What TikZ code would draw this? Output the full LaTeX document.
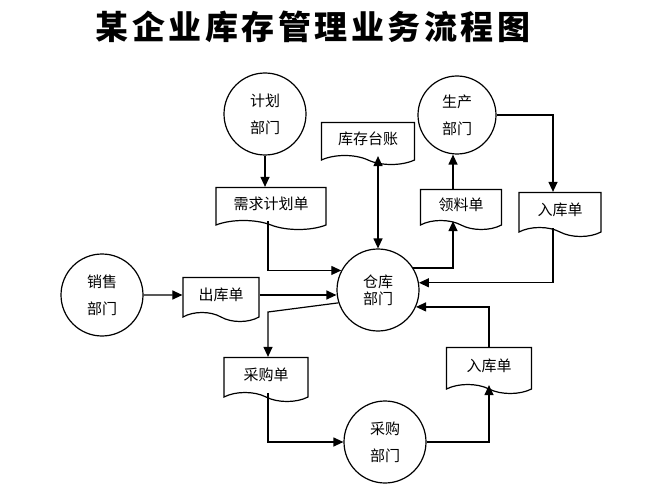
\documentclass[tikz,border=0pt]{standalone}
\usepackage{fontspec}
\setmainfont{Noto Sans CJK SC}
\usetikzlibrary{shapes.symbols,arrows.meta}
\newcommand{\ttlsp}{\hspace{3.5pt}}

\begin{document}
\begin{tikzpicture}[x=1pt,y=-1pt,line width=1.2pt,
  dept_node/.style={circle,draw,inner sep=0pt,minimum size=82pt,align=center,font=\fontsize{15}{27}\selectfont},
  doc_node/.style={tape,draw,tape bend top=none,tape bend bottom=out and in,tape bend height=9pt,inner sep=2pt,font=\fontsize{15}{18}\selectfont},
  arr/.style={-{Triangle[length=10pt,width=9pt]}}]
  \useasboundingbox (0,0) rectangle (667,500);
  \node (title) at (313,27) {\fontsize{33}{36}\selectfont\bfseries 某\ttlsp 企\ttlsp 业\ttlsp 库\ttlsp 存\ttlsp 管\ttlsp 理\ttlsp 业\ttlsp 务\ttlsp 流\ttlsp 程\ttlsp 图};
  \node[dept_node] (plan) at (265,114) {计划\\部门};
  \node[dept_node,minimum size=78pt] (prod) at (457,115) {生产\\部门};
  \node[dept_node] (sales) at (102,295) {销售\\部门};
  \node[dept_node,font=\fontsize{15}{17}\selectfont] (store) at (378,290) {仓库\\部门};
  \node[dept_node] (purch) at (385,442) {采购\\部门};
  \node[doc_node,minimum width=93pt,minimum height=42pt] (ledger) at (368,139) {库存台账};
  \node[doc_node,minimum width=110pt,minimum height=42pt] (demand) at (271,204) {需求计划单};
  \node[doc_node,minimum width=81pt,minimum height=40pt] (pick) at (461,205) {领料单};
  \node[doc_node,minimum width=82pt,minimum height=44pt] (intop) at (560,210) {入库单};
  \node[doc_node,minimum width=76pt,minimum height=44pt] (outdoc) at (221,295) {出库单};
  \node[doc_node,minimum width=84pt,minimum height=44pt] (pbill) at (266,375) {采购单};
  \node[doc_node,minimum width=85pt,minimum height=46pt] (inbot) at (489,366) {入库单};
  \coordinate (bend1) at (268,312);
  \draw[arr] (plan) -- (plan |- demand.north);
  \draw[arr] ([xshift=-3pt]demand.south) |- (store.152);
  \draw[arr] (sales) -- (outdoc);
  \draw[arr] (outdoc.east) -- (outdoc.east -| store.west);
  \draw[arr] (store.198) -- (bend1) -- (bend1 |- pbill.north);
  \draw[arr] (bend1 |- pbill.south) |- (purch.west);
  \draw[arr] (purch.east) -| (inbot.south);
  \draw[arr] (inbot.north) |- (store.336);
  \draw[arr] ([xshift=-7pt]intop.south) |- (store.10);
  \draw[arr] (store.32) -| ([xshift=-8pt]pick.south);
  \draw[arr] ([xshift=-8pt]pick.north) -- ([xshift=-8pt]pick.north |- prod.south);
  \draw[arr] (prod.east) -| ([xshift=-7pt]intop.north);
  \draw[{Triangle[length=10pt,width=9pt]}-{Triangle[length=10pt,width=9pt]}] (store.north) -- (store.north |- ledger.south);
\end{tikzpicture}
\end{document}
